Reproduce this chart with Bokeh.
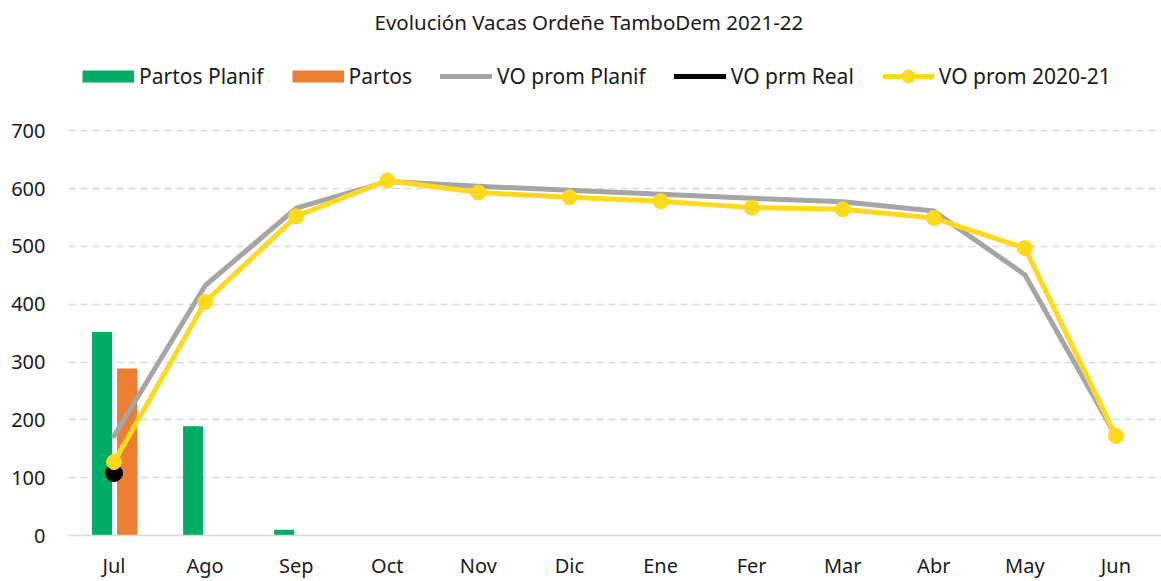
from bokeh.plotting import figure
from bokeh.models import FactorRange, Legend, LegendItem, FixedTicker, Range1d, ColumnDataSource
from bokeh.transform import dodge
from bokeh.embed import file_html
from bokeh.resources import INLINE

months = ["Jul", "Ago", "Sep", "Oct", "Nov", "Dic", "Ene", "Fer", "Mar", "Abr", "May", "Jun"]
partos_planif = [352, 189, 10, 0, 0, 0, 0, 0, 0, 0, 0, 0]
partos = [289, 0, 0, 0, 0, 0, 0, 0, 0, 0, 0, 0]
vo_prom_planif = [172, 432, 566, 612, 604, 597, 590, 583, 577, 561, 451, 172]
vo_prm_real_months = ["Jul"]
vo_prm_real = [108]
vo_prom_2020_21 = [127, 404, 552, 614, 593, 585, 578, 567, 564, 549, 497, 172]
y_ticks = [0, 100, 200, 300, 400, 500, 600, 700]

FONT = "Noto Sans"
GREEN = "#00AD65"
ORANGE = "#ED7D31"
GRAY = "#A5A5A5"
YELLOW = "#FFD91A"
TXT = "#1a1a1a"

src = ColumnDataSource(dict(month=months, pp=partos_planif, pa=partos,
                            vp=vo_prom_planif, v20=vo_prom_2020_21))

p = figure(x_range=FactorRange(factors=months, range_padding=0),
           y_range=Range1d(0, 856),
           width=1161, height=581, output_backend="svg", toolbar_location=None,
           min_border_left=68, min_border_right=0, min_border_top=40, min_border_bottom=41,
           title="Evolución Vacas Ordeñe TamboDem 2021-22")
p.outline_line_color = None
p.background_fill_color = "white"
p.border_fill_color = "white"

p.title.align = "left"
p.title.offset = 306
p.title.text_font = FONT
p.title.text_font_size = "20.5px"
p.title.text_font_style = "normal"
p.title.text_color = TXT

p.vbar(x=dodge("month", -0.132, range=p.x_range), top="pp", width=0.22,
       source=src, color=GREEN, line_color=None)
p.vbar(x=dodge("month", 0.143, range=p.x_range), top="pa", width=0.22,
       source=src, color=ORANGE, line_color=None)
r_vp = p.line(x="month", y="vp", source=src, line_color=GRAY, line_width=5, line_cap="round",
              line_join="round")
r_real_line = p.line(x=vo_prm_real_months, y=vo_prm_real, line_color="black", line_width=5,
                     line_cap="round")
p.scatter(x=vo_prm_real_months, y=vo_prm_real, size=17, color="black")
r_v20 = p.line(x="month", y="v20", source=src, line_color=YELLOW, line_width=5,
               line_join="round")
r_v20_pt = p.scatter(x="month", y="v20", source=src, size=15, color=YELLOW)

# legend swatches for the bar series (single undefined point: nothing drawn in the plot)
sw_pp = p.line(x=["Jul"], y=[float("nan")], line_color=GREEN, line_width=12, line_cap="butt")
sw_pa = p.line(x=["Jul"], y=[float("nan")], line_color=ORANGE, line_width=12, line_cap="butt")

p.yaxis.ticker = FixedTicker(ticks=y_ticks)
p.ygrid.ticker = FixedTicker(ticks=y_ticks)
p.ygrid.grid_line_color = "#D9D9D9"
p.ygrid.grid_line_width = 1.5
p.ygrid.grid_line_dash = "7 5"
p.xgrid.grid_line_color = None

p.yaxis.axis_line_color = None
p.yaxis.major_tick_line_color = None
p.yaxis.minor_tick_line_color = None
p.yaxis.major_label_text_font = FONT
p.yaxis.major_label_text_font_size = "20px"
p.yaxis.major_label_text_color = TXT
p.yaxis.major_label_standoff = 17

p.xaxis.axis_line_color = "#D9D9D9"
p.xaxis.axis_line_width = 1.5
p.xaxis.major_tick_line_color = None
p.xaxis.minor_tick_line_color = None
p.xaxis.major_label_text_font = FONT
p.xaxis.major_label_text_font_size = "20px"
p.xaxis.major_label_text_color = TXT
p.xaxis.major_label_standoff = 10

legend = Legend(items=[
    LegendItem(label="Partos Planif", renderers=[sw_pp]),
    LegendItem(label="Partos", renderers=[sw_pa]),
    LegendItem(label="VO prom Planif", renderers=[r_vp]),
    LegendItem(label="VO prm Real", renderers=[r_real_line]),
    LegendItem(label="VO prom 2020-21", renderers=[r_v20, r_v20_pt]),
], orientation="horizontal", location=(14, 443))
legend.label_text_font = FONT
legend.label_text_font_size = "21px"
legend.label_text_color = TXT
legend.glyph_width = 52
legend.glyph_height = 32
legend.label_height = 32
legend.label_standoff = 5
legend.spacing = 28
legend.padding = 0
legend.margin = 0
legend.border_line_color = None
legend.background_fill_alpha = 0
p.add_layout(legend, "center")

open("out.html", "w").write(file_html(p, INLINE))
